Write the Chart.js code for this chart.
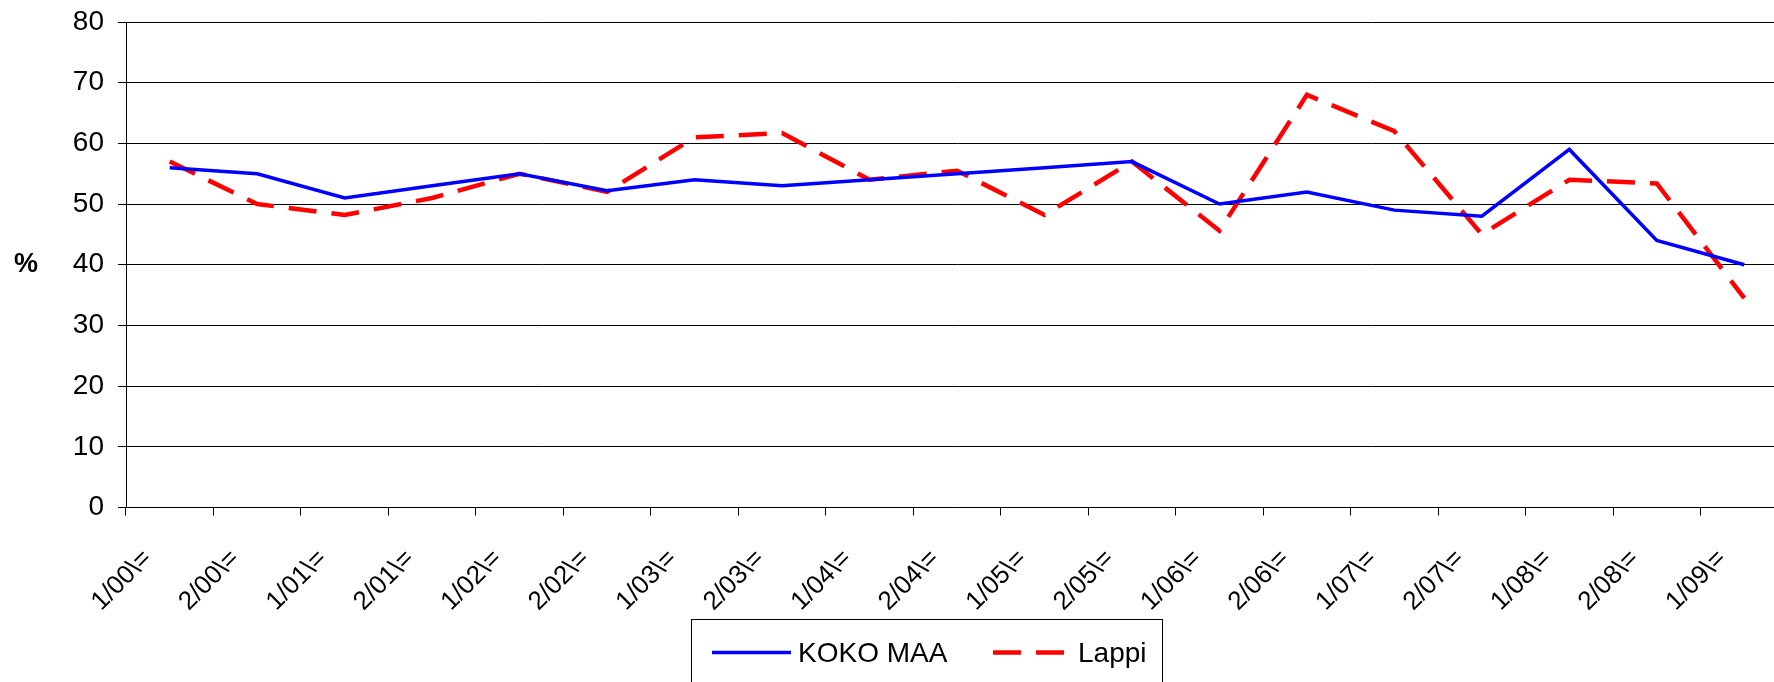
<!DOCTYPE html>
<html>
<head>
<meta charset="utf-8">
<script src="https://cdn.jsdelivr.net/npm/chart.js@4.4.0/dist/chart.umd.min.js"></script>
<style>
html,body{margin:0;padding:0;overflow:hidden;background:#fff;width:1774px;height:682px}
#wrap{position:absolute;left:0;top:0;width:1788px;height:682px}
</style>
</head>
<body>
<div id="wrap"><canvas id="c" width="1788" height="682"></canvas></div>
<script>
// ---- data ----
const categories = ['1/00\\=','2/00\\=','1/01\\=','2/01\\=','1/02\\=','2/02\\=','1/03\\=','2/03\\=','1/04\\=','2/04\\=',
                    '1/05\\=','2/05\\=','1/06\\=','2/06\\=','1/07\\=','2/07\\=','1/08\\=','2/08\\=','1/09\\='];
const kokoMaa = [56, 55, 51, 53, 55, 52.2, 54, 53, 54, 55, 56, 57, 50, 52, 49, 48, 59, 44, 40];
const lappi   = [57, 50, 48.2, 51, 55, 52, 61, 61.7, 54, 55.5, 48.2, 57, 45.6, 68, 62, 45, 54, 53.4, 34.5];
const seriesNames = ['KOKO MAA', 'Lappi'];
const yAxisTitle = '%';
const yMin = 0, yMax = 80, yStep = 10;

const FONT = '"Liberation Sans", Arial, Helvetica, sans-serif';

const yTitlePlugin = {
  id: 'yTitle',
  afterDraw(chart) {
    const ctx = chart.ctx, a = chart.chartArea;
    ctx.save();
    ctx.font = 'bold 27px ' + FONT;
    ctx.fillStyle = '#000';
    ctx.textAlign = 'center';
    ctx.textBaseline = 'middle';
    ctx.fillText(yAxisTitle, 26, (a.top + a.bottom) / 2);
    ctx.restore();
  }
};

const boxLegendPlugin = {
  id: 'boxLegend',
  afterDraw(chart) {
    const ctx = chart.ctx;
    const ds = chart.data.datasets;
    ctx.save();
    ctx.strokeStyle = '#000';
    ctx.lineWidth = 1;
    ctx.strokeRect(691.5, 619.5, 471, 80);
    const items = [{x0: 712, x1: 791, tx: 798}, {x0: 993, x1: 1066, tx: 1078}];
    const ly = 652.5;
    ds.forEach((d, i) => {
      const it = items[i];
      ctx.beginPath();
      ctx.strokeStyle = d.borderColor;
      ctx.lineWidth = d.borderWidth;
      ctx.setLineDash(d.borderDash || []);
      ctx.moveTo(it.x0, ly);
      ctx.lineTo(it.x1, ly);
      ctx.stroke();
      ctx.setLineDash([]);
      ctx.fillStyle = '#000';
      ctx.font = '28px ' + FONT;
      ctx.textAlign = 'left';
      ctx.textBaseline = 'alphabetic';
      ctx.fillText(d.label, it.tx, 662.3);
    });
    ctx.restore();
  }
};

new Chart(document.getElementById('c'), {
  type: 'line',
  data: {
    labels: categories,
    datasets: [
      {label: seriesNames[0], data: kokoMaa, borderColor: '#0000ff', backgroundColor: '#0000ff',
       borderWidth: 3.5, pointRadius: 0, tension: 0, fill: false},
      {label: seriesNames[1], data: lappi, borderColor: '#ff0000', backgroundColor: '#ff0000',
       borderWidth: 4.5, borderDash: [28, 15], pointRadius: 0, tension: 0, fill: false}
    ]
  },
  options: {
    responsive: false,
    animation: false,
    devicePixelRatio: 1,
    layout: {padding: {top: 22, left: 0, right: 0, bottom: 0}},
    plugins: {legend: {display: false}, tooltip: {enabled: false}},
    scales: {
      x: {
        type: 'category',
        offset: true,
        grid: {offset: true, drawOnChartArea: false, drawTicks: true, tickLength: 8, color: '#000', lineWidth: 1},
        border: {display: true, color: '#000', width: 1},
        ticks: {autoSkip: false, maxRotation: 45, minRotation: 45, labelOffset: -22, padding: 28,
                color: '#000', font: {family: FONT, size: 26}},
        afterFit(s) { s.height = 174.5; s.paddingLeft = 0; s.paddingRight = 0; }
      },
      y: {
        min: yMin, max: yMax,
        ticks: {stepSize: yStep, padding: 14, color: '#000', font: {family: FONT, size: 28}},
        grid: {color: '#000', lineWidth: 1, tickLength: 8},
        border: {display: true, color: '#000', width: 1},
        afterFit(s) { s.width = 126; s.paddingTop = 0; s.paddingBottom = 0; }
      }
    }
  },
  plugins: [yTitlePlugin, boxLegendPlugin]
});
</script>
</body>
</html>
